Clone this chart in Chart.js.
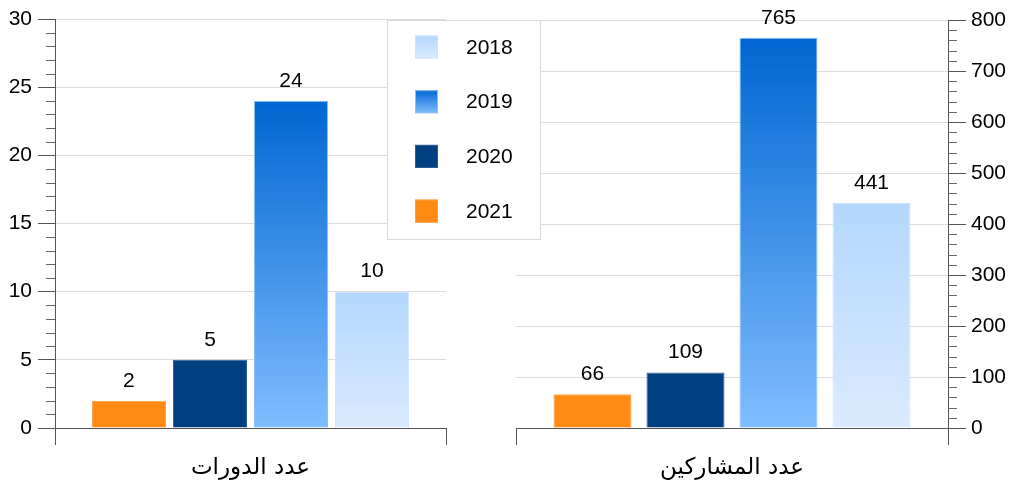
<!DOCTYPE html>
<meta charset="UTF-8">
<style>
  body { margin: 0; background: #fff; }
  #wrap { position: relative; width: 1011px; height: 486px; }
  canvas { position: absolute; left: 0; top: 0; }
</style>

<div id="wrap">
  <canvas id="coursesChart" width="1011" height="486"></canvas>
  <canvas id="peopleChart" width="1011" height="486"></canvas>
</div>

<script src="https://cdn.jsdelivr.net/npm/chart.js@4.4.0/dist/chart.umd.min.js"></script>

<script>
  // bar order left -> right
  const years = ['2021', '2020', '2019', '2018'];
  const coursesLabel = ['عدد الدورات'];
  const peopleLabel = ['عدد المشاركين'];
  const courses = [2, 5, 24, 10];
  const participants = [66, 109, 765, 441];

  // [top, bottom] colour for each year
  const fills = {
    '2021': ['#FF8A14', '#FF8A14'],
    '2020': ['#003F80', '#003F80'],
    '2019': ['#0066D2', '#80BDFF'],
    '2018': ['#B3D7FD', '#DAEBFF'],
  };
  const edges = {
    '2021': '#FFA040',
    '2020': '#2C5E96',
    '2019': '#8AC0F5',
    '2018': '#CFE5FF',
  };

  const tickFont = { family: 'Liberation Sans, Arial, sans-serif', size: 21 };

  function barFill(year) {
    return function (ctx) {
      const chart = ctx.chart;
      const [c1, c2] = fills[year];
      if (!chart.chartArea || ctx.type !== 'data') return c1;
      const y = chart.scales.y;
      const g = chart.ctx.createLinearGradient(0, y.getPixelForValue(ctx.raw), 0, y.getPixelForValue(0));
      g.addColorStop(0, c1);
      g.addColorStop(1, c2);
      return g;
    };
  }

  function makeDatasets(values) {
    return years.map((yr, i) => ({
      label: yr,
      data: [values[i]],
      backgroundColor: barFill(yr),
      borderColor: edges[yr],
      borderWidth: 1,
    }));
  }

  // short ticks between the labelled ones
  const minorTicks = {
    id: 'minorTicks',
    afterDraw(chart, args, opts) {
      const s = chart.scales.y;
      const c = chart.ctx;
      c.save();
      c.strokeStyle = '#666';
      c.lineWidth = 1;
      for (let v = s.min; v <= s.max; v += opts.step) {
        if (v % opts.major === 0) continue;
        const y = Math.round(s.getPixelForValue(v)) + 0.5;
        const x = opts.side === 'left' ? s.right : s.left;
        c.beginPath();
        c.moveTo(x, y);
        c.lineTo(opts.side === 'left' ? x - 9 : x + 9, y);
        c.stroke();
      }
      c.restore();
    }
  };

  // numbers above bars
  const valueLabels = {
    id: 'valueLabels',
    afterDatasetsDraw(chart) {
      const c = chart.ctx;
      c.save();
      c.font = '21px Liberation Sans, Arial, sans-serif';
      c.fillStyle = '#000';
      c.textAlign = 'center';
      c.textBaseline = 'middle';
      chart.data.datasets.forEach((ds, i) => {
        chart.getDatasetMeta(i).data.forEach((bar, j) => {
          c.fillText(ds.data[j], bar.x, bar.y - 20);
        });
      });
      c.restore();
    }
  };

  // legend box in the middle, 2018 first
  const boxLegend = {
    id: 'boxLegend',
    afterDraw(chart) {
      const c = chart.ctx;
      const x0 = 387.5, y0 = 20.5, w = 153, h = 219;
      c.save();
      c.fillStyle = '#fff';
      c.fillRect(x0, y0, w, h);
      c.strokeStyle = '#D9D9D9';
      c.lineWidth = 1;
      c.strokeRect(x0, y0, w, h);
      const items = chart.data.datasets.slice().reverse();
      items.forEach((ds, i) => {
        const cy = 47 + i * 54.7;
        const [c1, c2] = fills[ds.label];
        const g = c.createLinearGradient(0, cy - 11.5, 0, cy + 11.5);
        g.addColorStop(0, c1);
        g.addColorStop(1, c2);
        c.fillStyle = g;
        c.fillRect(415, cy - 11.5, 23, 23);
        c.strokeStyle = edges[ds.label];
        c.strokeRect(415.5, cy - 11, 22, 22);
        c.fillStyle = '#000';
        c.font = '21px Liberation Sans, Arial, sans-serif';
        c.textAlign = 'left';
        c.textBaseline = 'middle';
        c.fillText(ds.label, 466, cy + 1);
      });
      c.restore();
    }
  };

  function xAxis() {
    return {
      grid: { drawOnChartArea: false, offset: true, color: '#555', tickLength: 17 },
      border: { color: '#555' },
      ticks: { color: '#000', padding: 9, font: { family: 'DejaVu Sans', size: 23 } },
      afterFit(s) { s.height = 58; },
    };
  }

  new Chart(document.getElementById('coursesChart'), {
    type: 'bar',
    data: { labels: coursesLabel, datasets: makeDatasets(courses) },
    options: {
      responsive: false,
      animation: false,
      categoryPercentage: 0.829,
      barPercentage: 0.914,
      layout: { padding: { top: 19, right: 565, left: 0, bottom: 0 } },
      plugins: {
        legend: { display: false },
        tooltip: { enabled: false },
        minorTicks: { step: 1, major: 5, side: 'left' },
      },
      scales: {
        x: xAxis(),
        y: {
          position: 'left',
          min: 0,
          max: 30,
          ticks: { stepSize: 5, color: '#000', padding: 6, font: tickFont },
          grid: { color: '#DDDDDD', tickColor: '#555', tickLength: 17 },
          border: { color: '#555' },
          afterFit(s) { s.width = 55; },
        },
      },
    },
    plugins: [minorTicks, valueLabels],
  });

  new Chart(document.getElementById('peopleChart'), {
    type: 'bar',
    data: { labels: peopleLabel, datasets: makeDatasets(participants) },
    options: {
      responsive: false,
      animation: false,
      categoryPercentage: 0.861,
      barPercentage: 0.839,
      layout: { padding: { top: 20, left: 516, right: 0, bottom: 0 } },
      plugins: {
        legend: { display: false },
        tooltip: { enabled: false },
        minorTicks: { step: 20, major: 100, side: 'right' },
      },
      scales: {
        x: xAxis(),
        y: {
          position: 'right',
          min: 0,
          max: 800,
          ticks: { stepSize: 100, color: '#000', padding: 5, font: tickFont },
          grid: { color: '#DDDDDD', tickColor: '#555', tickLength: 18 },
          border: { color: '#555' },
          afterFit(s) { s.width = 63; },
        },
      },
    },
    plugins: [minorTicks, valueLabels, boxLegend],
  });
</script>
